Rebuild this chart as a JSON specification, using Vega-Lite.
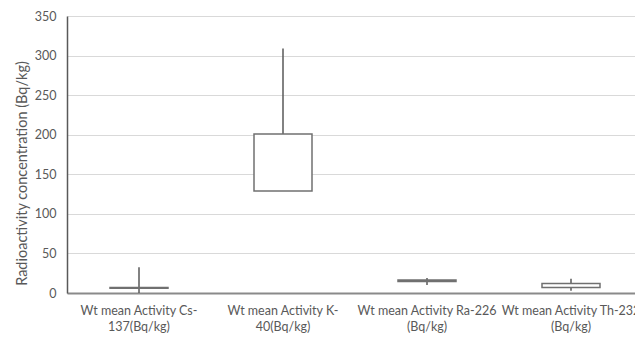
{
  "$schema": "https://vega.github.io/schema/vega-lite/v6.json",
  "width": 576,
  "height": 277,
  "autosize": {"type": "none"},
  "padding": {"left": 67, "top": 16, "right": 0, "bottom": 46},
  "background": "white",
  "config": {"view": {"stroke": null}, "font": "Lato"},
  "data": {
    "values": [
      {"category": "Wt mean Activity Cs-137(Bq/kg)", "min": 0, "q1": 6, "q3": 7, "max": 32.5},
      {"category": "Wt mean Activity K-40(Bq/kg)", "min": 129, "q1": 129, "q3": 201, "max": 309},
      {"category": "Wt mean Activity Ra-226 (Bq/kg)", "min": 10, "q1": 14.5, "q3": 16.5, "max": 19},
      {"category": "Wt mean Activity Th-232 (Bq/kg)", "min": 3, "q1": 7, "q3": 12, "max": 18}
    ]
  },
  "encoding": {
    "x": {
      "field": "category",
      "type": "nominal",
      "sort": null,
      "scale": {"paddingInner": 0, "paddingOuter": 0},
      "axis": {
        "title": null,
        "labelAngle": 0,
        "ticks": false,
        "grid": false,
        "domainColor": "#8a8a8a",
        "domainWidth": 2,
        "labelFontSize": 12.5,
        "labelColor": "#595959",
        "labelPadding": 11,
        "labelLineHeight": 16,
        "labelLimit": 200,
        "labelOverlap": false,
        "labelExpr": "datum.label === 'Wt mean Activity Cs-137(Bq/kg)' ? ['Wt mean Activity Cs-', '137(Bq/kg)'] : datum.label === 'Wt mean Activity K-40(Bq/kg)' ? ['Wt mean Activity K-', '40(Bq/kg)'] : datum.label === 'Wt mean Activity Ra-226 (Bq/kg)' ? ['Wt mean Activity Ra-226', '(Bq/kg)'] : ['Wt mean Activity Th-232', '(Bq/kg)']"
      }
    }
  },
  "layer": [
    {
      "mark": {"type": "rule", "color": "#595959", "strokeWidth": 1.5},
      "encoding": {
        "y": {
          "field": "min",
          "type": "quantitative",
          "scale": {"domain": [0, 350], "nice": false},
          "axis": {
            "title": "Radioactivity concentration (Bq/kg)",
            "titleFontSize": 14.5,
            "titleFontWeight": "normal",
            "titleColor": "#595959",
            "titleX": -38,
            "titleY": 157,
            "values": [0, 50, 100, 150, 200, 250, 300, 350],
            "ticks": false,
            "grid": true,
            "gridColor": "#d9d9d9",
            "gridWidth": 1,
            "domainColor": "#595959",
            "domainWidth": 1.5,
            "labelFontSize": 12.5,
            "labelColor": "#595959",
            "labelPadding": 11,
            "labelOverlap": false
          }
        },
        "y2": {"field": "max"}
      }
    },
    {
      "mark": {"type": "bar", "fill": "white", "stroke": "#707070", "strokeWidth": 1.5, "size": 58},
      "encoding": {
        "y": {
          "field": "q1",
          "type": "quantitative",
          "scale": {"domain": [0, 350], "nice": false},
          "axis": {
            "title": "Radioactivity concentration (Bq/kg)",
            "titleFontSize": 14.5,
            "titleFontWeight": "normal",
            "titleColor": "#595959",
            "titleX": -38,
            "titleY": 157,
            "values": [0, 50, 100, 150, 200, 250, 300, 350],
            "ticks": false,
            "grid": true,
            "gridColor": "#d9d9d9",
            "gridWidth": 1,
            "domainColor": "#595959",
            "domainWidth": 1.5,
            "labelFontSize": 12.5,
            "labelColor": "#595959",
            "labelPadding": 11,
            "labelOverlap": false
          }
        },
        "y2": {"field": "q3"}
      }
    }
  ]
}
